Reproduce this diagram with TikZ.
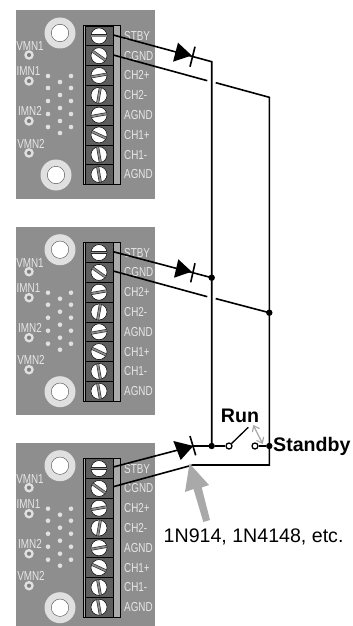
\documentclass[tikz,border=0pt]{standalone}
\usepackage{fontspec}
\usepackage{graphicx}
\usetikzlibrary{arrows.meta}
\setmainfont{Liberation Sans}
\definecolor{boardgray}{HTML}{8E8E8E}
\definecolor{rowdark}{HTML}{5E5E5E}
\definecolor{stripgray}{HTML}{ABABAB}
\definecolor{lblgray}{HTML}{E6E6E6}
\definecolor{ringgray}{HTML}{E0E0E0}
\definecolor{arrowgray}{HTML}{A9A9A9}
\newcommand{\silk}[1]{\fontsize{13}{13}\selectfont\scalebox{0.76}[1]{#1}}
\newcommand{\drawboard}[4]{%
  \begin{scope}[shift={(0,#1)}]
    \fill[boardgray] (16,0) rectangle (154.5,188.7);
    \foreach \hx/\hy in {60/23,#2/#3}{
      \fill[ringgray] (\hx,\hy) circle (15.5);
      \draw[fill=white,draw=black!70,line width=.4pt] (\hx,\hy) circle (8.7);
    }
    \foreach \rx/\ry in {29/45,29/71,29/111,29/143}{
      \fill[ringgray] (\rx,\ry) circle (4.8);
      \fill[gray] (\rx,\ry) circle (2.1);
    }
    \node[lblgray,inner sep=0pt] (vmna#4) at (30,36.5) {\silk{VMN1}};
    \node[lblgray,inner sep=0pt] (imna#4) at (28.5,61.5) {\silk{IMN1}};
    \node[lblgray,inner sep=0pt] (imnb#4) at (30,101) {\silk{IMN2}};
    \node[lblgray,inner sep=0pt] (vmnb#4) at (31,133.5) {\silk{VMN2}};
    \foreach \dx/\dy in {48/66,48/78,48/91,48/104,48/117,60/72,60/85,60/98,60/111,60/123,71/66,71/78,71/91,71/104,71/117}{
      \fill[ringgray] (\dx,\dy) circle (2.3);
    }
    \fill[stripgray] (83,15.5) rectangle (120.5,174.5);
    \fill[rowdark] (85,16) rectangle (113,174.3);
    \draw[black,line width=.6pt] (83,15.5) rectangle (120.5,174.5);
    \foreach \i/\ang/\lab in {0/0/STBY,1/35/CGND,2/-10/CH2+,3/-80/CH2-,4/-10/AGND,5/25/CH1+,6/-100/CH1-,7/-100/AGND}{
      \pgfmathsetmacro{\cy}{25.9+19.8*\i}
      \pgfmathsetmacro{\ly}{16+19.8*\i}
      \draw[black,line width=.6pt] (85,\ly) rectangle (113,\ly+19.8);
      \fill[white,draw=black,line width=.5pt] (99,\cy) circle (8);
      \begin{scope}[shift={(99,\cy)}]
        \draw[black!85,line width=2.9pt] (\ang:7.7) -- (180+\ang:7.7);
        \draw[gray!90,line width=1.7pt] (\ang:7.7) -- (180+\ang:7.7);
      \end{scope}
      \node[lblgray,anchor=west,inner sep=0pt] (lab\i#4) at (124,\cy) {\silk{\lab}};
    }
  \end{scope}
}
\tikzset{
  wire/.style={draw=black,line width=1.6pt,line join=miter},
  dot/.style={circle,fill=black,inner sep=0pt,minimum size=6.4pt},
  contact/.style={circle,draw=black,fill=white,line width=1.3pt,inner sep=0pt,minimum size=6pt},
  diodetri/.style={fill=black},
  bigtext/.style={inner sep=0pt,font=\fontsize{19.6}{20}\selectfont}
}
\begin{document}
\begin{tikzpicture}[x=1pt,y=-1pt]
\useasboundingbox (0,0) rectangle (353,626);
\clip (0,0) rectangle (353,626);
\drawboard{10}{56}{165}{A}
\drawboard{226.7}{60}{165}{B}
\drawboard{442.7}{60}{165}{C}

% terminals
\coordinate (a1) at (113.3,35);
\coordinate (b1) at (113.3,55);
\coordinate (a2) at (113.3,251.7);
\coordinate (b2) at (113.3,271);
\coordinate (a3) at (113.3,467);
\coordinate (b3) at (113.3,486.7);
\coordinate (cornA) at (211.7,61.7);
\coordinate (gapA1) at (207.3,80.7);
\coordinate (gapA2) at (215.7,82.7);
\coordinate (cornB) at (269.3,97.3);
\coordinate (gapB1) at (207.3,296.7);
\coordinate (gapB2) at (215.7,298.6);
\coordinate (d3) at (193.3,446);
\coordinate (cornC) at (269.3,465);
\coordinate (cornD) at (192.7,465);
\coordinate (armtip) at (248.3,427.3);
\node[dot] (j2a) at (211.7,277.7) {};
\node[dot] (j2b) at (269.3,312.7) {};
\node[dot] (j3a) at (211.7,446) {};
\node[dot] (j3b) at (269.3,446) {};

% wires
\draw[wire] (a1) -- (cornA) -- (j2a.center) -- (j3a.center);
\draw[wire] (b1) -- (gapA1);
\draw[wire] (gapA2) -- (cornB) -- (j2b.center) -- (j3b.center) -- (cornC) -- (cornD) -- (b3);
\draw[wire] (a2) -- (j2a.center);
\draw[wire] (b2) -- (gapB1);
\draw[wire] (gapB2) -- (j2b.center);
\draw[wire] (a3) -- (d3) -- (j3a.center);

% diodes
\fill[diodetri] (178,42.7) -- (173,61.7) -- (191.7,55.5) -- cycle;
\draw[wire] (195,46.7) -- (190,66.7);
\fill[diodetri] (178.3,259.3) -- (174,277.7) -- (191.7,271.7) -- cycle;
\draw[wire] (195,263.3) -- (190.7,282.3);
\fill[diodetri] (173.3,441) -- (180.7,460) -- (193.3,446) -- cycle;
\draw[wire] (190,436) -- (195.7,455.3);

% switch
\node[contact] (s1) at (229,446) {};
\node[contact] (s2) at (255,446) {};
\draw[wire] (j3a) -- (s1);
\draw[wire] (s2) -- (j3b);
\draw[wire,line width=1.3pt] (s1) -- (armtip);
\draw[draw=arrowgray,line width=1.2pt,{Straight Barb[length=5pt,width=8pt]}-{Straight Barb[length=5pt,width=8pt]}] (253.3,425) -- (262.7,444);

% big gray arrow
\fill[arrowgray] (189.5,463.5) -- (209,485) -- (201.7,487.5) -- (210,520) -- (203.3,522) -- (193.5,489) -- (185,492) -- cycle;

% labels
\node[bigtext,font=\fontsize{19.6}{20}\selectfont\bfseries] (run) at (240,415.5) {Run};
\node[bigtext,font=\fontsize{19.6}{20}\selectfont\bfseries,anchor=west] (standby) at (273,446.5) {Standby};
\node[bigtext,anchor=west] (part) at (163.5,536.5) {1N914, 1N4148, etc.};
\end{tikzpicture}
\end{document}
